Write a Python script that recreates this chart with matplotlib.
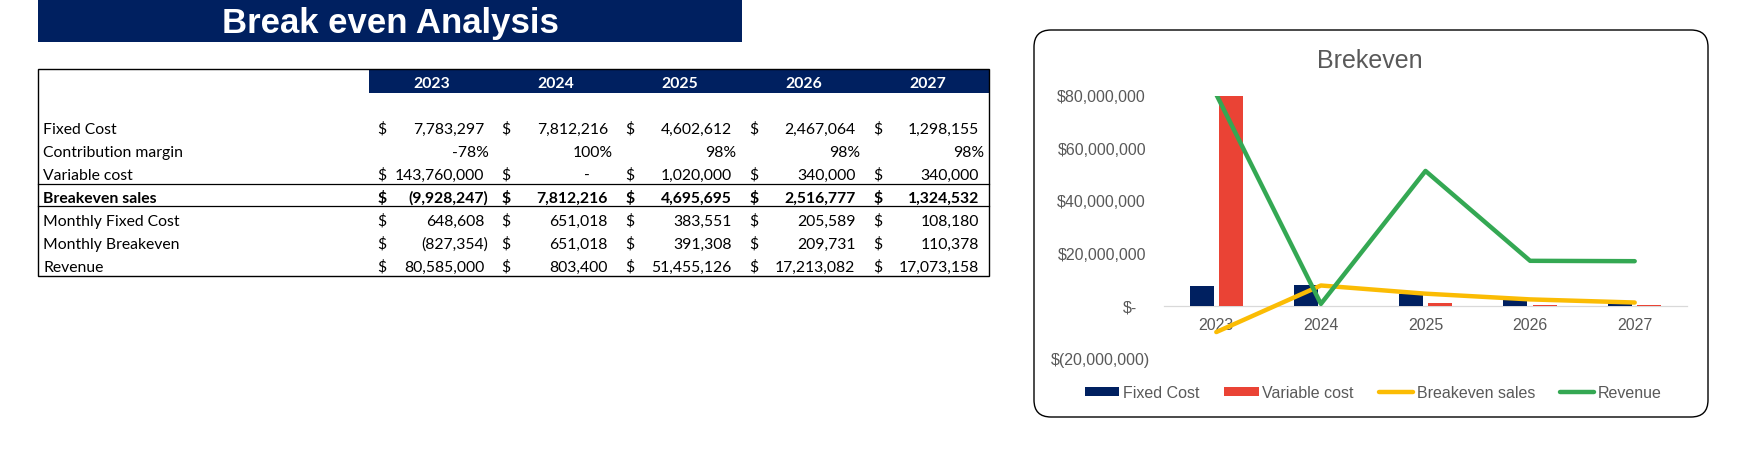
import matplotlib
matplotlib.use('Agg')
import matplotlib.pyplot as plt
import numpy as np
from matplotlib.patches import Rectangle, FancyBboxPatch
from matplotlib.transforms import IdentityTransform
from matplotlib.lines import Line2D

# ---------------- data ----------------
years = [2023, 2024, 2025, 2026, 2027]
fixed_cost = [7783297, 7812216, 4602612, 2467064, 1298155]
contribution_margin = [-0.78, 1.00, 0.98, 0.98, 0.98]
variable_cost = [143760000, 0, 1020000, 340000, 340000]
breakeven_sales = [-9928247, 7812216, 4695695, 2516777, 1324532]
monthly_fixed_cost = [648608, 651018, 383551, 205589, 108180]
monthly_breakeven = [-827354, 651018, 391308, 209731, 110378]
revenue = [80585000, 803400, 51455126, 17213082, 17073158]

row_labels = ["Fixed Cost", "Contribution margin", "Variable cost", "Breakeven sales",
              "Monthly Fixed Cost", "Monthly Breakeven", "Revenue"]
legend_order = ["Fixed Cost", "Variable cost", "Breakeven sales", "Revenue"]
y_ticks = [-20000000, 0, 20000000, 40000000, 60000000, 80000000]

# ---------------- style ----------------
NAVY = '#002060'
RED = '#EA4335'
YELLOW = '#FBBC04'
GREEN = '#34A853'
GREY = '#595959'
TFONT = ['Lato', 'DejaVu Sans']
CFONT = ['Liberation Sans', 'DejaVu Sans']

W, H = 1744, 461
fig = plt.figure(figsize=(W / 100, H / 100), dpi=100)


def fx(x):
    return x / W


def fy(y):
    return 1 - y / H


# ---------------- title bar ----------------
fig.add_artist(Rectangle((fx(38), fy(41.7)), (742 - 38) / W, 41.7 / H,
                         transform=fig.transFigure, facecolor=NAVY, edgecolor='none'))
fig.text(fx(390), fy(33), "Break even Analysis", color='white', fontsize=25,
         fontweight='bold', family=CFONT, ha='center', va='baseline')

# ---------------- table ----------------
T_L, T_R, T_T, T_B = 38, 989, 69, 276
fig.add_artist(Rectangle((fx(369), fy(92.7)), (T_R - 369) / W, (92.7 - T_T) / H,
                         transform=fig.transFigure, facecolor=NAVY, edgecolor='none'))
fig.add_artist(Rectangle((fx(T_L), fy(T_B)), (T_R - T_L) / W, (T_B - T_T) / H,
                         transform=fig.transFigure, facecolor='none', edgecolor='black',
                         linewidth=1.0))
for ly in (184.5, 206.5):
    fig.add_artist(Line2D([fx(T_L), fx(T_R)], [fy(ly), fy(ly)], transform=fig.transFigure,
                          color='black', linewidth=0.9))

TS = 11.3
for i, yr in enumerate(years):
    fig.text(fx(432 + 124 * i), fy(87.6), str(yr), color='white', fontsize=TS,
             fontweight='bold', family=TFONT, ha='center', va='baseline')

rows = [
    (fixed_cost, 'acct'),
    (contribution_margin, 'pct'),
    (variable_cost, 'acct'),
    (breakeven_sales, 'acct'),
    (monthly_fixed_cost, 'acct'),
    (monthly_breakeven, 'acct'),
    (revenue, 'acct'),
]
row_y = [128, 151, 174, 197, 220, 243, 266]

for r, ((vals, kind), label) in enumerate(zip(rows, row_labels)):
    bold = (label == "Breakeven sales")
    fw = 'bold' if bold else 'normal'
    base = row_y[r] + 5.6
    fig.text(fx(43), fy(base), label, fontsize=TS, fontweight=fw, family=TFONT,
             ha='left', va='baseline', color='black')
    for i, v in enumerate(vals):
        R = 484 + 123.75 * i
        if kind == 'pct':
            fig.text(fx(R + 5), fy(base), f"{v * 100:.0f}%", fontsize=TS, fontweight=fw,
                     family=TFONT, ha='right', va='baseline', color='black')
            continue
        fig.text(fx(382 + 124 * i), fy(base), "$", fontsize=TS, fontweight=fw,
                 family=TFONT, ha='center', va='baseline', color='black')
        if v == 0:
            s, xr = "-", R - 18
        elif v < 0:
            s, xr = f"({abs(v):,.0f})", R + 4
        else:
            s, xr = f"{v:,.0f}", R
        fig.text(fx(xr), fy(base), s, fontsize=TS, fontweight=fw, family=TFONT,
                 ha='right', va='baseline', color='black')

# ---------------- chart ----------------
fig.add_artist(FancyBboxPatch((1034, H - 417), 674, 387,
                              boxstyle='round,pad=0,rounding_size=17',
                              transform=IdentityTransform(), facecolor='white',
                              edgecolor='black', linewidth=1.0, zorder=0))

fig.text(fx(1370), fy(68), "Brekeven", fontsize=18, color=GREY, family=CFONT,
         ha='center', va='baseline')

ax = fig.add_axes([fx(1164), fy(358.5), (1687 - 1164) / W, (358.5 - 96) / H])
ax.patch.set_alpha(0)
x = np.arange(len(years))
bw = 0.23
ax.bar(x - 0.14, fixed_cost, bw, color=NAVY, label='Fixed Cost', zorder=2)
ax.bar(x + 0.14, variable_cost, bw, color=RED, label='Variable cost', zorder=2)
ax.plot(x, breakeven_sales, color=YELLOW, lw=3.2, label='Breakeven sales', zorder=3,
        solid_capstyle='round', solid_joinstyle='round')
ax.plot(x, revenue, color=GREEN, lw=3.2, label='Revenue', zorder=4,
        solid_capstyle='round', solid_joinstyle='round')

ax.set_xlim(-0.5, 4.5)
ax.set_ylim(-20000000, 80000000)
for s in ('top', 'right', 'left'):
    ax.spines[s].set_visible(False)
ax.spines['bottom'].set_position(('data', 0))
ax.spines['bottom'].set_color('#D9D9D9')
ax.spines['bottom'].set_linewidth(0.9)
ax.spines['bottom'].set_zorder(1)

ax.set_xticks(x)
ax.set_xticklabels([str(y) for y in years])
ax.set_yticks(y_ticks)


def money(v):
    if v == 0:
        return "$-"
    if v < 0:
        return f"$({abs(v):,.0f})"
    return f"${v:,.0f}"


ax.set_yticklabels([money(v) for v in y_ticks])
ax.tick_params(axis='both', length=0, labelsize=11.5, labelcolor=GREY)
ax.tick_params(axis='x', pad=8.6)
for lab in ax.get_xticklabels() + ax.get_yticklabels():
    lab.set_family(CFONT)
pads = {-20000000: 10.1, 0: 19.4}
for t, v in zip(ax.yaxis.get_major_ticks(), y_ticks):
    t.set_pad(pads.get(v, 12.96))

handles, labels = ax.get_legend_handles_labels()
hmap = dict(zip(labels, handles))
leg = fig.legend([hmap[l] for l in legend_order], legend_order, loc='center',
                 bbox_to_anchor=(fx(1373.5), fy(393)),
                 ncol=4, frameon=False, handlelength=2.13,
                 handleheight=0.5, handletextpad=0.25, columnspacing=1.55,
                 labelcolor=GREY, prop={'family': CFONT, 'size': 11.5})

fig.savefig('out.png', dpi=100)
